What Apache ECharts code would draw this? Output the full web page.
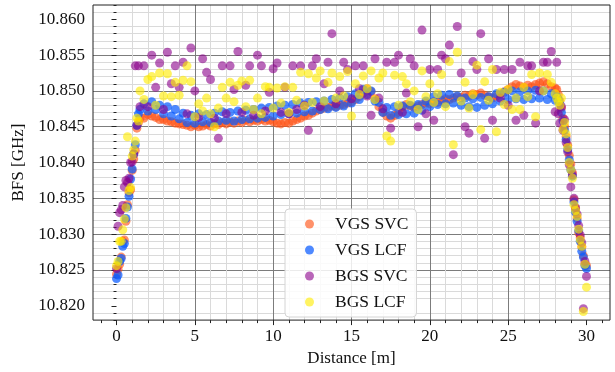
<!DOCTYPE html>
<html>
<head>
<meta charset="utf-8">
<script src="https://cdn.jsdelivr.net/npm/echarts@6/dist/echarts.min.js"></script>
<style>
html, body { margin: 0; padding: 0; background: #fff; }
#chart { width: 615px; height: 372px; }
</style>
</head>
<body>
<div id="chart"></div>
<script>
// sample positions along the fibre [m]
const distance = [
    0, 0.1, 0.2, 0.3, 0.4, 0.5, 0.6, 0.7, 0.8, 0.9, 1.0, 1.1, 1.2, 1.3, 1.4, 1.5,
    1.75, 2, 2.25, 2.5, 2.75, 3, 3.25, 3.5, 3.75, 4, 4.25, 4.5, 4.75, 5, 5.25, 5.5, 5.75,
    6, 6.25, 6.5, 6.75, 7, 7.25, 7.5, 7.75, 8, 8.25, 8.5, 8.75, 9, 9.25, 9.5, 9.75,
    10, 10.25, 10.5, 10.75, 11, 11.25, 11.5, 11.75, 12, 12.25, 12.5, 12.75, 13, 13.25, 13.5, 13.75,
    14, 14.25, 14.5, 14.75, 15, 15.25, 15.5, 15.75, 16, 16.25, 16.5, 16.75, 17, 17.25, 17.5, 17.75,
    18, 18.25, 18.5, 18.75, 19, 19.25, 19.5, 19.75, 20, 20.25, 20.5, 20.75, 21, 21.25, 21.5, 21.75,
    22, 22.25, 22.5, 22.75, 23, 23.25, 23.5, 23.75, 24, 24.25, 24.5, 24.75, 25, 25.25, 25.5, 25.75,
    26, 26.25, 26.5, 26.75, 27, 27.25, 27.5, 27.75, 28,
    28.1, 28.2, 28.3, 28.4, 28.5, 28.6, 28.7, 28.8, 28.9, 29.0,
    29.1, 29.2, 29.3, 29.4, 29.5, 29.6, 29.7, 29.8, 29.9, 30.0
];

// BFS [GHz]
const vgsSvc = [
    10.8244, 10.8251, 10.8258, 10.8268, 10.8290, 10.8292, 10.8318, 10.8341, 10.8358, 10.8362, 10.8389, 10.8405, 10.8417, 10.8448, 10.8456, 10.8462,
    10.8462, 10.8467, 10.8465, 10.8463, 10.8460, 10.8460, 10.8458, 10.8457, 10.8455, 10.8454,
    10.8453, 10.8452, 10.8450, 10.8452, 10.8450, 10.8451, 10.8453, 10.8451, 10.8454, 10.8453,
    10.8456, 10.8454, 10.8457, 10.8455, 10.8458, 10.8456, 10.8459, 10.8457, 10.8459, 10.8458,
    10.8460, 10.8458, 10.8459, 10.8457, 10.8455, 10.8454, 10.8456, 10.8455, 10.8458, 10.8460,
    10.8462, 10.8465, 10.8466, 10.8469, 10.8472, 10.8474, 10.8476, 10.8477, 10.8479, 10.8478,
    10.8480, 10.8481, 10.8483, 10.8485, 10.8488, 10.8492, 10.8497, 10.8503, 10.8499, 10.8489,
    10.8478, 10.8470, 10.8465, 10.8462, 10.8466, 10.8470, 10.8478, 10.8481, 10.8479, 10.8477,
    10.8479, 10.8481, 10.8483, 10.8482, 10.8485, 10.8484, 10.8487, 10.8489, 10.8488, 10.8490,
    10.8492, 10.8491, 10.8494, 10.8493, 10.8496, 10.8495, 10.8497, 10.8494, 10.8492, 10.8490,
    10.8493, 10.8496, 10.8499, 10.8502, 10.8506, 10.8509, 10.8507, 10.8505, 10.8508, 10.8506,
    10.8509, 10.8511, 10.8513, 10.8510, 10.8506, 10.8504,
    10.8502, 10.8495, 10.8486, 10.8476, 10.8462, 10.8450, 10.8436, 10.8424, 10.8410, 10.8398,
    10.8386, 10.8348, 10.8336, 10.8322, 10.8302, 10.8295, 10.8282, 10.8270, 10.8258, 10.8256
];

const vgsLcf = [
    10.8238, 10.8243, 10.8262, 10.8266, 10.8283, 10.8287, 10.8322, 10.8338, 10.8353, 10.8377, 10.8391, 10.8412, 10.8425, 10.8452, 10.8468, 10.8474,
    10.8482, 10.8472, 10.8485, 10.8474, 10.8480, 10.8468, 10.8478, 10.8465, 10.8474, 10.8461,
    10.8469, 10.8456, 10.8466, 10.8455, 10.8468, 10.8457, 10.8467, 10.8456, 10.8469, 10.8458,
    10.8471, 10.8459, 10.8470, 10.8458, 10.8472, 10.8460, 10.8473, 10.8461, 10.8474, 10.8462,
    10.8476, 10.8463, 10.8477, 10.8465, 10.8479, 10.8467, 10.8480, 10.8468, 10.8481, 10.8469,
    10.8483, 10.8471, 10.8484, 10.8472, 10.8485, 10.8474, 10.8486, 10.8475, 10.8488, 10.8477,
    10.8490, 10.8479, 10.8492, 10.8483, 10.8496, 10.8488, 10.8502, 10.8495, 10.8500, 10.8486,
    10.8484, 10.8470, 10.8477, 10.8466, 10.8478, 10.8467, 10.8479, 10.8468, 10.8480, 10.8469,
    10.8481, 10.8473, 10.8486, 10.8478, 10.8492, 10.8481, 10.8494, 10.8482, 10.8495, 10.8483,
    10.8493, 10.8480, 10.8490, 10.8478, 10.8489, 10.8477, 10.8491, 10.8480, 10.8492, 10.8482,
    10.8496, 10.8486, 10.8498, 10.8488, 10.8500, 10.8489, 10.8499, 10.8488, 10.8500, 10.8489,
    10.8501, 10.8490, 10.8500, 10.8488, 10.8496, 10.8487,
    10.8492, 10.8488, 10.8482, 10.8470, 10.8458, 10.8445, 10.8432, 10.8418, 10.8404, 10.8390,
    10.8381, 10.8345, 10.8331, 10.8318, 10.8305, 10.8290, 10.8276, 10.8268, 10.8256, 10.8252
];

const bgsSvc = [
    10.8252, 10.8311, 10.8330, 10.8334, 10.8340, 10.8366, 10.8375, 10.8372, 10.8378, 10.8400, 10.8401, 10.8412, 10.8535, 10.8452, 10.8535, 10.8478,
    10.8535, 10.8478, 10.8550, 10.8505, 10.8539, 10.8474, 10.8554, 10.8510, 10.8535, 10.8505,
    10.8540, 10.8468, 10.8560, 10.8500, 10.8463, 10.8545, 10.8526, 10.8516, 10.8462, 10.8434,
    10.8535, 10.8468, 10.8535, 10.8502, 10.8555, 10.8470, 10.8508, 10.8535, 10.8466, 10.8550,
    10.8535, 10.8472, 10.8498, 10.8531, 10.8539, 10.8470, 10.8505, 10.8468, 10.8535, 10.8474,
    10.8535, 10.8480, 10.8445, 10.8535, 10.8545, 10.8478, 10.8510, 10.8540, 10.8580, 10.8482,
    10.8500, 10.8540, 10.8530, 10.8489, 10.8535, 10.8503, 10.8535, 10.8493, 10.8466, 10.8545,
    10.8490, 10.8475, 10.8540, 10.8448, 10.8540, 10.8550, 10.8470, 10.8497, 10.8545, 10.8535,
    10.8450, 10.8585, 10.8468, 10.8530, 10.8459, 10.8530, 10.8550, 10.8545, 10.8564, 10.8411,
    10.8590, 10.8525, 10.8450, 10.8441, 10.8541, 10.8530, 10.8580, 10.8434, 10.8545, 10.8459,
    10.8530, 10.8490, 10.8530, 10.8480, 10.8530, 10.8459, 10.8540, 10.8466, 10.8535, 10.8535,
    10.8455, 10.8500, 10.8540, 10.8540, 10.8555, 10.8471,
    10.8540, 10.8468, 10.8455, 10.8478, 10.8445, 10.8460, 10.8428, 10.8415, 10.8397, 10.8366,
    10.8383, 10.8350, 10.8337, 10.8328, 10.8312, 10.8299, 10.8288, 10.8196, 10.8262, 10.8241
];

const bgsLcf = [
    10.8256, 10.8262, 10.8290, 10.8290, 10.8306, 10.8321, 10.8337, 10.8436, 10.8361, 10.8365, 10.8409, 10.8418, 10.8430, 10.8462, 10.8458, 10.8500,
    10.8488, 10.8516, 10.8520, 10.8480, 10.8525, 10.8493, 10.8524, 10.8492, 10.8512, 10.8494,
    10.8515, 10.8535, 10.8513, 10.8464, 10.8482, 10.8472, 10.8490, 10.8468, 10.8450, 10.8476,
    10.8505, 10.8490, 10.8512, 10.8485, 10.8508, 10.8514, 10.8478, 10.8515, 10.8474, 10.8490,
    10.8468, 10.8506, 10.8505, 10.8476, 10.8504, 10.8483, 10.8506, 10.8470, 10.8505, 10.8487,
    10.8526, 10.8479, 10.8524, 10.8484, 10.8518, 10.8528, 10.8486, 10.8512, 10.8525, 10.8490,
    10.8520, 10.8493, 10.8527, 10.8465, 10.8510, 10.8495, 10.8521, 10.8503, 10.8528, 10.8488,
    10.8518, 10.8525, 10.8437, 10.8430, 10.8522, 10.8480, 10.8520, 10.8510, 10.8485, 10.8500,
    10.8474, 10.8528, 10.8492, 10.8510, 10.8484, 10.8496, 10.8523, 10.8478, 10.8541, 10.8425,
    10.8554, 10.8486, 10.8512, 10.8476, 10.8495, 10.8536, 10.8446, 10.8513, 10.8487, 10.8530,
    10.8443, 10.8498, 10.8481, 10.8502, 10.8474, 10.8490, 10.8474, 10.8505, 10.8492, 10.8523,
    10.8464, 10.8525, 10.8500, 10.8523, 10.8512, 10.8496,
    10.8490, 10.8485, 10.8480, 10.8490, 10.8446, 10.8456, 10.8440, 10.8421, 10.8400, 10.8390,
    10.8378, 10.8341, 10.8333, 10.8325, 10.8307, 10.8292, 10.8283, 10.8192, 10.8258, 10.8226
];

const seriesNames = ['VGS SVC', 'VGS LCF', 'BGS SVC', 'BGS LCF'];
const seriesColors = ['#ff4d0f', '#0a5cff', '#8b008b', '#ffec00'];
const seriesOpacity = [0.62, 0.72, 0.6, 0.62];
const xTicks = [0, 5, 10, 15, 20, 25, 30];
const yTicks = [10.820, 10.825, 10.830, 10.835, 10.840, 10.845, 10.850, 10.855, 10.860];

// minor grid positions (every 1 m / every 1 MHz), majors left out
const xMinor = [];
for (let v = -1; v <= 31; v++) {
    if (v % 5 !== 0) xMinor.push(v);
}
const yMinor = [];
for (let k = 818; k <= 862; k++) {
    if (k % 5 !== 0) yMinor.push(+(10 + k / 1000).toFixed(3));
}

const serif = 'Liberation Serif';
const chart = echarts.init(document.getElementById('chart'));

const allValues = [vgsSvc, vgsLcf, bgsSvc, bgsLcf];
const series = allValues.map((vals, s) => ({
    name: seriesNames[s],
    type: 'scatter',
    xAxisIndex: 0,
    yAxisIndex: 0,
    symbolSize: 9,
    itemStyle: { color: seriesColors[s], opacity: seriesOpacity[s] },
    data: distance.map((d, i) => [d, vals[i]]),
    z: 3 + s
}));

const xRange = { min: -1.5, max: 31.5 };
const yRange = { min: 10.818, max: 10.862 };

chart.setOption({
    animation: false,
    backgroundColor: '#fff',
    grid: {
        left: 93, right: 5, top: 5, bottom: 47,
        show: true, borderColor: '#222', borderWidth: 1, backgroundColor: 'transparent', z: 10
    },
    xAxis: [
        {
            type: 'value', ...xRange, position: 'bottom',
            name: 'Distance [m]', nameLocation: 'middle', nameGap: 25,
            nameTextStyle: { fontFamily: serif, fontSize: 17, color: '#111' },
            axisLine: { show: false },
            axisTick: { show: true, customValues: xTicks, length: 5, lineStyle: { color: '#222' } },
            axisLabel: { customValues: xTicks, fontFamily: serif, fontSize: 17, color: '#111', margin: 8 },
            splitLine: { show: true, showMinLine: false, showMaxLine: false, lineStyle: { color: '#7c7c7c', width: 1 } }
        },
        {
            type: 'value', ...xRange, position: 'bottom',
            axisLine: { show: false },
            axisTick: { show: true, customValues: xMinor, length: 3, lineStyle: { color: '#222' } },
            axisLabel: { show: false },
            splitLine: { show: true, showMinLine: false, showMaxLine: false, lineStyle: { color: '#dadada', width: 1 } }
        }
    ],
    yAxis: [
        {
            type: 'value', ...yRange, position: 'left',
            name: 'BFS [GHz]', nameLocation: 'middle', nameGap: 53,
            nameTextStyle: { fontFamily: serif, fontSize: 17, color: '#111' },
            axisLine: { show: false },
            axisTick: { show: true, customValues: yTicks, length: 5, lineStyle: { color: '#222' } },
            axisLabel: {
                customValues: yTicks, fontFamily: serif, fontSize: 17, color: '#111', margin: 8,
                formatter: v => v.toFixed(3)
            },
            splitLine: { show: true, showMinLine: false, showMaxLine: false, lineStyle: { color: '#7c7c7c', width: 1 } }
        },
        {
            type: 'value', ...yRange, position: 'left',
            axisLine: { show: false },
            axisTick: { show: true, customValues: yMinor, length: 3, lineStyle: { color: '#222' } },
            axisLabel: { show: false },
            splitLine: { show: true, showMinLine: false, showMaxLine: false, lineStyle: { color: '#dadada', width: 1 } }
        }
    ],
    legend: {
        orient: 'vertical', left: 285, top: 209,
        padding: [6, 8, 6, 20],
        itemWidth: 41, itemHeight: 9, itemGap: 8,
        icon: 'circle',
        backgroundColor: 'rgba(255,255,255,0.85)',
        borderColor: '#d4d4d4', borderWidth: 1, borderRadius: 4,
        textStyle: { fontFamily: serif, fontSize: 17.5, color: '#111', lineHeight: 18 },
        data: seriesNames
    },
    series: series
});
</script>
</body>
</html>
